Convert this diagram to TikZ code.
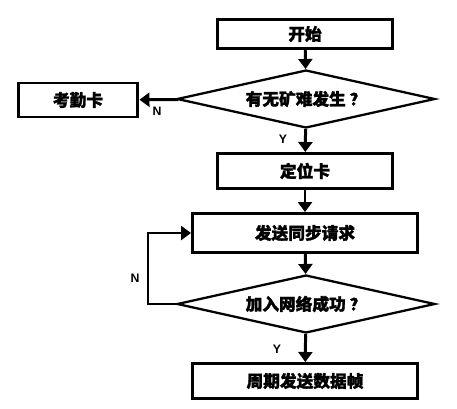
\documentclass[tikz,border=0pt]{standalone}
\usepackage{fontspec}
\usepackage{tikz}
\usetikzlibrary{shapes.geometric,arrows.meta}
\newfontfamily\cjk{Noto Sans CJK SC}[BoldFeatures={FakeBold=1.5}]
\newfontfamily\lat{Liberation Sans}
\tikzset{bx/.style = {rectangle, line width=1.7pt, inner sep=0pt, draw, font=\cjk\bfseries\fontsize{9.5}{11}\selectfont},
         dm/.style = {diamond, shape aspect=4.45, line width=1.3pt, inner sep=0pt, draw, minimum width=5.16cm, minimum height=1.16cm, font=\cjk\bfseries\fontsize{9.5}{11}\selectfont},
         yn/.style = {inner sep=0pt, font=\lat\bfseries\fontsize{7}{8}\selectfont},
         ln/.style = {line width=1.7pt}}

\begin{document}
\begin{tikzpicture}[x=0.02cm, y=-0.02cm, >={Triangle[width=0.28cm,length=0.2cm]}]
    \useasboundingbox (0,0) rectangle (457,409);
    \node[bx, minimum width=3.5cm, minimum height=0.58cm] (start) at (305,34) {开始};
    \node[dm] (q1) at (306,99) {有无矿难发生 ？};
    \node[bx, minimum width=2.4cm, minimum height=0.68cm] (card) at (78,100) {考勤卡};
    \node[bx, minimum width=3.5cm, minimum height=0.7cm] (loc) at (305,171) {定位卡};
    \node[bx, minimum width=4.5cm, minimum height=0.78cm] (sync) at (305,233) {发送同步请求};
    \node[dm] (q2) at (306,304) {加入网络成功 ？};
    \node[bx, minimum width=4.5cm, minimum height=0.7cm] (send) at (305,381) {周期发送数据帧};
    \coordinate (loop) at (148,304);
    \node[yn] (n1) at (157,111) {N};
    \node[yn] (y1) at (283,139) {Y};
    \node[yn] (n2) at (135,278) {N};
    \node[yn] (y2) at (277,349) {Y};
    \draw[ln, ->] (start) -- (q1);
    \draw[ln, ->] (q1) -- (card);
    \draw[ln, ->] (q1) -- (loc);
    \draw[ln, ->] (loc) -- (sync);
    \draw[ln, ->] (sync) -- (q2);
    \draw[ln, ->] (q2) -- (send);
    \draw[ln, ->] (q2.west) -- (loop) |- (sync.west);
\end{tikzpicture}
\end{document}
